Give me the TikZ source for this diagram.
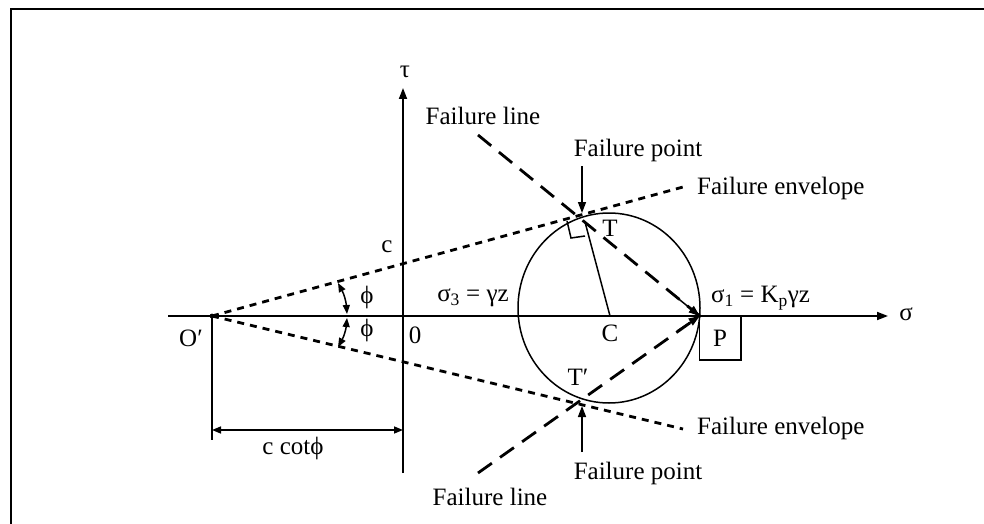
\documentclass[tikz,border=0pt]{standalone}
\usepackage{fontspec}
\setmainfont{Liberation Serif}
\usetikzlibrary{arrows.meta}
\begin{document}
\begin{tikzpicture}[x=1pt,y=-1pt,
  lbl/.style={inner sep=0pt,font=\fontsize{25}{29}\selectfont},
  axis/.style={line width=1.8pt,-{Triangle[length=11pt,width=8pt]}},
  thin/.style={line width=1.5pt},
  env/.style={line width=2.8pt,dash pattern=on 7pt off 6pt},
  fline/.style={line width=2.8pt,dash pattern=on 17pt off 10pt},
  tip/.style={-{Triangle[length=11pt,width=8pt]}},
  dtip/.style={{Triangle[length=9pt,width=7pt]}-{Triangle[length=9pt,width=7pt]}}]
\useasboundingbox (0,0) rectangle (984,524);
% frame
\draw[line width=2.6pt] (11,524) -- (11,9) -- (984,9);
% key points
\coordinate (O) at (212,316);
\coordinate (P) at (699.7,316);
\coordinate (C) at (610,316);
\coordinate (T) at (582,219);
\coordinate (Tp) at (582,403);
\coordinate (sL) at (168,316);
\coordinate (sR) at (888,316);
\coordinate (tB) at (403,473);
\coordinate (tT) at (403,88);
\coordinate (eU) at (683,187);
\coordinate (eL) at (683,429);
\coordinate (fU) at (478,135);
\coordinate (fL) at (478,473);
\coordinate (dO) at (212,440);
\coordinate (dA) at (212,430);
\coordinate (dB) at (403,430);
% axes
\draw[axis] (sL) -- (sR);
\draw[axis] (tB) -- (tT);
% circle
\draw[thin] (609,308) ellipse [x radius=91, y radius=95];
% radius and right-angle mark
\draw[thin] (C) -- (585,222);
\draw[thin] (567,221) -- (571,238) -- (585,236);
% envelopes
\draw[env] (O) -- (eU);
\draw[env] (O) -- (eL);
\fill (O) circle (2.4pt);
% failure lines
\draw[fline] (fU) -- (P);
\draw[fline] (fL) -- (P);
\draw[tip,line width=1.5pt] (675,296) -- (P);
\draw[tip,line width=1.5pt] (677,331) -- (P);
% failure point arrows
\coordinate (aU) at (582,166);
\coordinate (aL) at (582,452);
\draw[thin,tip] (aU) -- (582,213);
\draw[thin,tip] (aL) -- (582,406);
% phi arcs
\draw[thin,dtip] (338,283) to[bend left=12] (347,314);
\draw[thin,dtip] (347,318) to[bend left=12] (338,347);
% c cot phi dimension
\draw[line width=1.8pt] (O) -- (dO);
\draw[thin,dtip] (dA) -- (dB);
% P box
\draw[thin] (P) rectangle (741,360);
% labels
\node[lbl] (ltau) at (405,72) {τ};
\node[lbl] (lsig) at (906,314) {σ};
\node[lbl] (lflu) at (483,116) {Failure line};
\node[lbl] (lfpu) at (638,150) {Failure point};
\node[lbl,anchor=west] (lfeu) at (697,188) {Failure envelope};
\node[lbl] (lc) at (387,247) {c};
\node[lbl] (ls3) at (473,298) {σ\textsubscript{3} = γz};
\node[lbl,anchor=west] (ls1) at (711,298) {σ\textsubscript{1} = K\textsubscript{p}γz};
\node[lbl] (lT) at (610,228) {T};
\node[lbl] (lC) at (610,333) {C};
\node[lbl] (lTp) at (578,377) {T′};
\node[lbl] (lP) at (720,338) {P};
\node[lbl] (lph1) at (367,297) {ϕ};
\node[lbl] (lph2) at (367,330) {ϕ};
\node[lbl] (lO) at (191,338) {O′};
\node[lbl] (l0) at (415,335) {0};
\node[lbl] (lcot) at (293,448) {c cotϕ};
\node[lbl,anchor=west] (lfel) at (697,428) {Failure envelope};
\node[lbl] (lfpl) at (638,473) {Failure point};
\node[lbl] (lfll) at (490,497) {Failure line};
\end{tikzpicture}
\end{document}
